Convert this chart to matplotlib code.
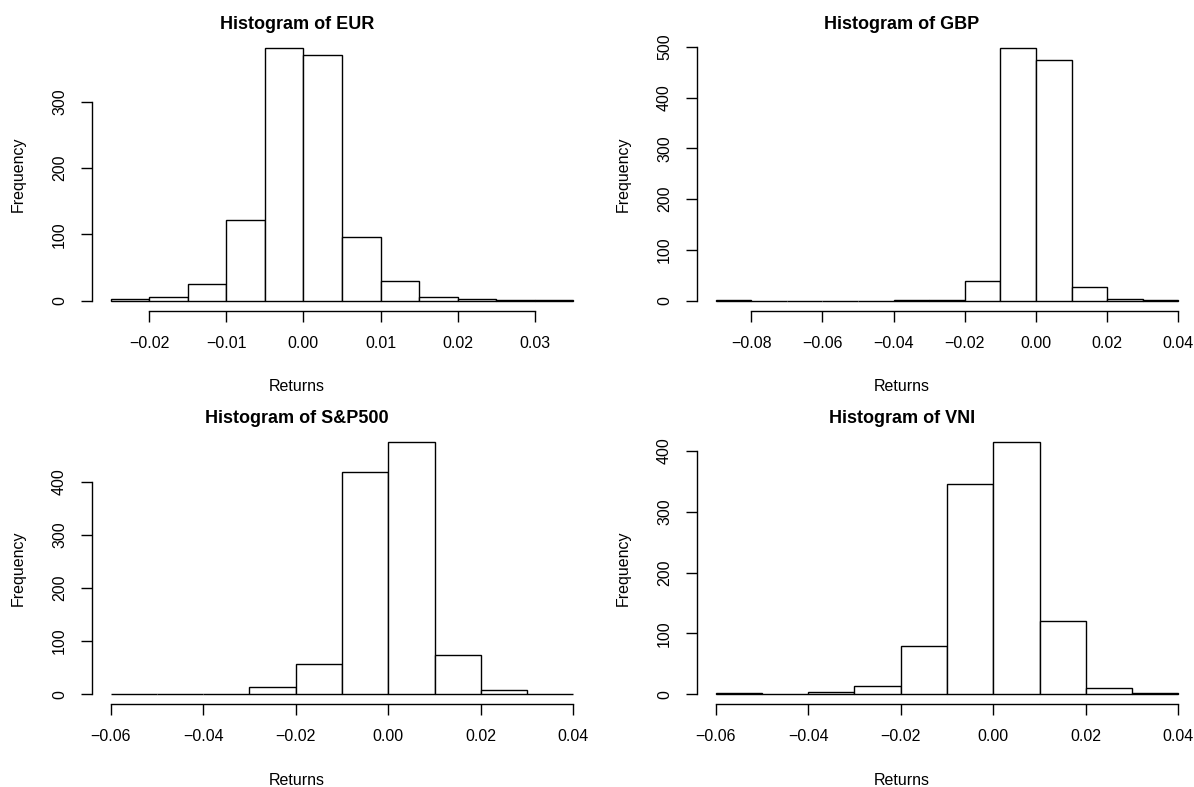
import matplotlib
matplotlib.use("Agg")
import matplotlib.pyplot as plt

plt.rcParams['font.family'] = ['Liberation Sans', 'DejaVu Sans']

# bin edges and counts
eur_edges = [-0.025, -0.02, -0.015, -0.01, -0.005, 0.0, 0.005, 0.01, 0.015, 0.02, 0.025, 0.03, 0.035]
eur_counts = [3, 5, 25, 122, 381, 371, 96, 30, 5, 2, 1, 1]
eur_xticks = [-0.02, -0.01, 0.0, 0.01, 0.02, 0.03]
eur_xlabels = ["\u22120.02", "\u22120.01", "0.00", "0.01", "0.02", "0.03"]
eur_yticks = [0, 100, 200, 300]

gbp_edges = [-0.09, -0.08, -0.07, -0.06, -0.05, -0.04, -0.03, -0.02, -0.01, 0.0, 0.01, 0.02, 0.03, 0.04]
gbp_counts = [1, 0, 0, 0, 0, 1, 1, 38, 498, 474, 27, 2, 1]
gbp_xticks = [-0.08, -0.06, -0.04, -0.02, 0.0, 0.02, 0.04]
gbp_xlabels = ["\u22120.08", "\u22120.06", "\u22120.04", "\u22120.02", "0.00", "0.02", "0.04"]
gbp_yticks = [0, 100, 200, 300, 400, 500]

sp_edges = [-0.06, -0.05, -0.04, -0.03, -0.02, -0.01, 0.0, 0.01, 0.02, 0.03, 0.04]
sp_counts = [1, 1, 0, 13, 56, 419, 475, 74, 8, 1]
vni_counts = [2, 1, 3, 13, 79, 346, 415, 120, 11, 2]
sp_xticks = [-0.06, -0.04, -0.02, 0.0, 0.02, 0.04]
sp_xlabels = ["\u22120.06", "\u22120.04", "\u22120.02", "0.00", "0.02", "0.04"]
sp_yticks = [0, 100, 200, 300, 400]

W, H = 1194, 787
fig = plt.figure(figsize=(W / 100, H / 100), dpi=100)

PW, PH = 500, 272.6


def panel(left, top, name, edges, counts, xticks, xlabels, yticks):
    ax = fig.add_axes([left / W, 1 - (top + PH) / H, PW / W, PH / H])
    widths = [edges[i + 1] - edges[i] for i in range(len(counts))]
    ax.bar(edges[:-1], counts, width=widths, align='edge',
           facecolor='white', edgecolor='black', linewidth=1.0)
    lo, hi = edges[0], edges[-1]
    r = hi - lo
    ax.set_xlim(lo - 0.04 * r, hi + 0.04 * r)
    m = max(counts)
    ax.set_ylim(-0.04 * m, 1.04 * m)
    for s in ['top', 'right']:
        ax.spines[s].set_visible(False)
    ax.spines['left'].set_bounds(yticks[0], yticks[-1])
    ax.spines['bottom'].set_bounds(xticks[0], xticks[-1])
    ax.spines['left'].set_linewidth(1.0)
    ax.spines['bottom'].set_linewidth(1.0)
    ax.set_xticks(xticks)
    ax.set_xticklabels(xlabels)
    ax.set_yticks(yticks)
    ax.set_yticklabels([str(v) for v in yticks])
    ax.tick_params(length=8, width=1.0, labelsize=11.5, direction='out')
    ax.tick_params(axis='x', pad=10)
    ax.tick_params(axis='y', pad=10)
    plt.setp(ax.get_yticklabels(), rotation=90, va='center')
    ax.set_xlabel("Returns", fontsize=11.5)
    ax.xaxis.set_label_coords(0.41, -0.279)
    ax.xaxis.label.set_va('center')
    ax.set_ylabel("Frequency", fontsize=11.5)
    ax.yaxis.set_label_coords(-0.148, 0.5)
    ax.yaxis.label.set_va('center')
    ax.text(0.41, 1.048, "Histogram of " + name, transform=ax.transAxes,
            ha='center', va='center', fontsize=13, fontweight='bold')
    return ax


panel(92, 38, "EUR", eur_edges, eur_counts, eur_xticks, eur_xlabels, eur_yticks)
panel(697, 38, "GBP", gbp_edges, gbp_counts, gbp_xticks, gbp_xlabels, gbp_yticks)
panel(92, 431.7, "S&P500", sp_edges, sp_counts, sp_xticks, sp_xlabels, sp_yticks)
panel(697, 431.7, "VNI", sp_edges, vni_counts, sp_xticks, sp_xlabels, sp_yticks)

fig.savefig("out.png", dpi=100)
